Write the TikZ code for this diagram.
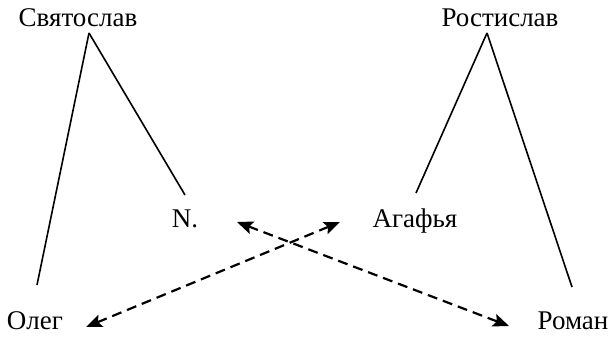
\documentclass[tikz,border=0pt]{standalone}
\usepackage{fontspec}
\setmainfont{Liberation Serif}
\usetikzlibrary{arrows.meta}
\begin{document}
\begin{tikzpicture}[x=1pt,y=-1pt,
  person/.style={inner sep=0pt,anchor=base,font=\fontsize{27}{30}\selectfont},
  kin/.style={line width=1.6pt},
  marriage/.style={line width=2.2pt,dash pattern=on 10pt off 6pt,{Stealth[length=16pt,width=13pt,inset=3pt]}-{Stealth[length=16pt,width=13pt,inset=3pt]}}]
\useasboundingbox (0,0) rectangle (613,339);
\node[person] (sv) at (78,27) {Святослав};
\node[person] (ro) at (500,27) {Ростислав};
\node[person] (n) at (185,228) {N.};
\node[person] (ag) at (415,228) {Агафья};
\node[person] (ol) at (35,329) {Олег};
\node[person] (rm) at (573,329) {Роман};
\coordinate (svtop) at (89,33);
\coordinate (rotop) at (487,33);
\coordinate (olend) at (37,285);
\coordinate (nend) at (185,195);
\coordinate (agend) at (416,193);
\coordinate (rmend) at (572,287);
\coordinate (a1) at (86,327);
\coordinate (a2) at (340,222);
\coordinate (b1) at (237,222);
\coordinate (b2) at (509,326);
\draw[kin] (svtop) -- (olend);
\draw[kin] (svtop) -- (nend);
\draw[kin] (rotop) -- (agend);
\draw[kin] (rotop) -- (rmend);
\draw[marriage] (a1) -- (a2);
\draw[marriage] (b1) -- (b2);
\end{tikzpicture}
\end{document}
